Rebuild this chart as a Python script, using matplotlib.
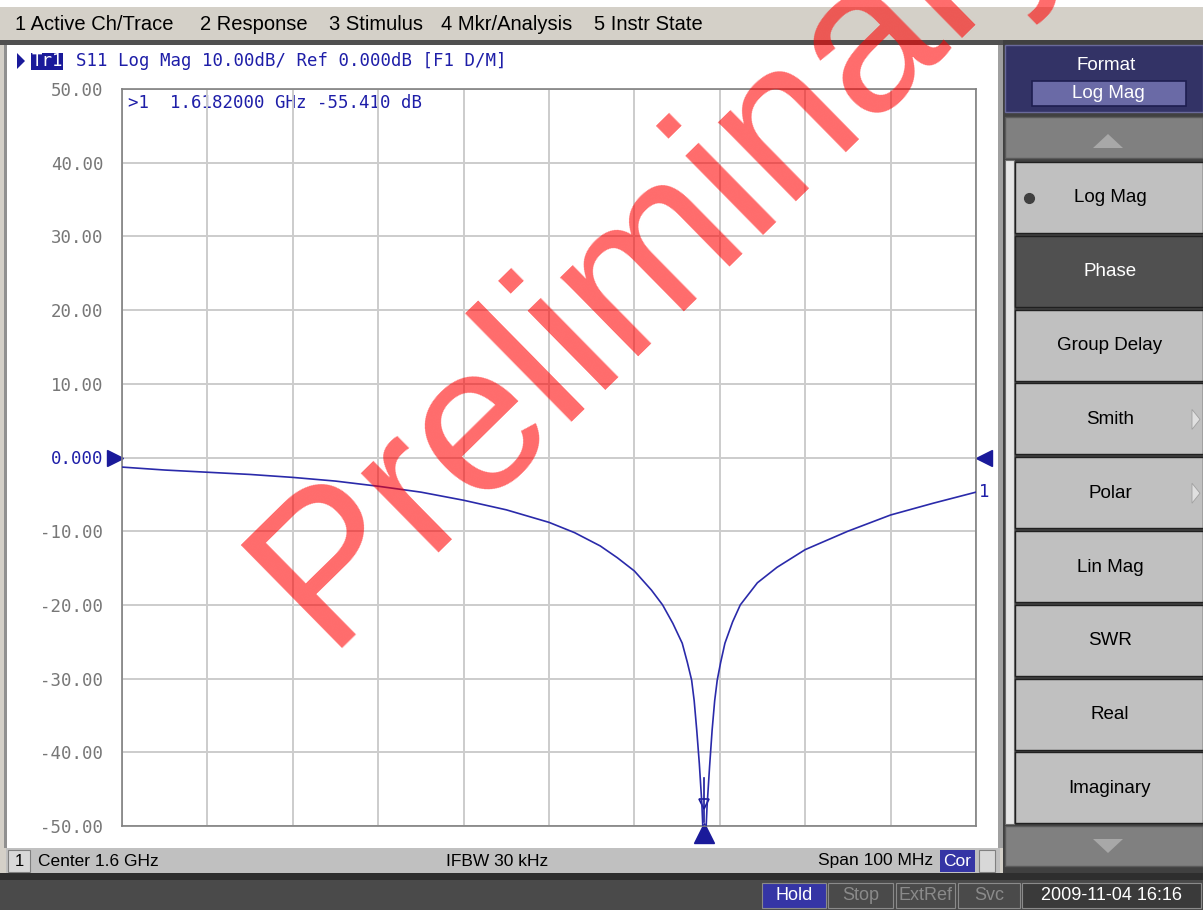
import matplotlib
matplotlib.use("Agg")
import matplotlib.pyplot as plt
import matplotlib.transforms as mtransforms
from matplotlib.patches import Rectangle, Polygon

W, H = 1203, 910

# S11 trace
freq_mhz = [1550, 1555, 1560, 1565, 1570, 1575, 1580, 1585, 1590, 1595, 1600,
            1603, 1606, 1608, 1610, 1612, 1613.3, 1614.5, 1615.6, 1616.2,
            1616.7, 1617.0, 1617.3, 1617.6, 1617.9, 1618.2, 1618.5, 1618.8,
            1619.1, 1619.4, 1619.7, 1620.1, 1620.6, 1621.5, 1622.4, 1624.4,
            1626.7, 1630, 1635, 1640, 1645, 1650]
s11_db = [-1.3, -1.7, -2.0, -2.3, -2.7, -3.2, -3.9, -4.7, -5.8, -7.1, -8.8,
          -10.2, -12.0, -13.6, -15.4, -18.0, -20.0, -22.5, -25.2, -27.8,
          -30.2, -33.0, -37.0, -41.5, -47.0, -55.4, -47.5, -42.0,
          -37.0, -33.0, -30.2, -27.8, -25.2, -22.3, -20.0, -17.0,
          -14.9, -12.5, -10.0, -7.8, -6.2, -4.7]

marker_freq = 1618.2
marker_db = -55.410
ytick_vals = [50, 40, 30, 20, 10, 0, -10, -20, -30, -40, -50]
ytick_text = ["50.00", "40.00", "30.00", "20.00", "10.00", "0.000",
              "-10.00", "-20.00", "-30.00", "-40.00", "-50.00"]

menu_items = ["1 Active Ch/Trace", "2 Response", "3 Stimulus",
              "4 Mkr/Analysis", "5 Instr State"]
format_buttons = ["Log Mag", "Phase", "Group Delay", "Smith", "Polar",
                  "Lin Mag", "SWR", "Real", "Imaginary"]

BLUE = "#1e1ea8"
MONO = "DejaVu Sans Mono"
UI = "Liberation Sans"

fig = plt.figure(figsize=(W / 100, H / 100), dpi=100)
bg = fig.add_axes([0, 0, 1, 1], zorder=0)
bg.set_xlim(0, W)
bg.set_ylim(H, 0)
bg.axis("off")


def box(x0, y0, x1, y1, fc, ec="none", lw=0, z=1):
    bg.add_patch(Rectangle((x0, y0), x1 - x0, y1 - y0, fc=fc, ec=ec, lw=lw, zorder=z))


# window chrome
box(0, 0, W, H, "#d4d0c8", z=0)
box(0, 0, W, 7, "white")
box(0, 40, 1003, 45, "#505050")
box(6, 45, 1000, 848, "white")
box(4, 45, 7, 848, "#909090")
box(998, 45, 1003, 848, "#a0a0a0")

menu_x = [15, 200, 329, 441, 594]
for mx, item in zip(menu_x, menu_items):
    bg.text(mx, 24, item, fontsize=14.5, family=UI, va="center", ha="left", color="black")

# header line
bg.add_patch(Polygon([(17, 53), (25, 61), (17, 69)], closed=True, fc="#1a1a9a", zorder=3))
box(31, 53, 63, 70, "#1a1a9a", z=3)
bg.text(47, 61.5, "Tr1", family=MONO, fontsize=12.5, color="white", ha="center", va="center", zorder=4)
bg.text(76, 61.5, "S11 Log Mag 10.00dB/ Ref 0.000dB [F1 D/M]", family=MONO,
        fontsize=12.5, color=BLUE, ha="left", va="center", zorder=4)
bg.text(128, 103, ">1  1.6182000 GHz -55.410 dB", family=MONO, fontsize=12.5,
        color=BLUE, ha="left", va="center", zorder=4)

# channel status bar
box(6, 848, 1000, 873, "#c0c0c0")
box(8, 850, 30, 872, "#d8d8d8", ec="#808080", lw=0.8, z=2)
bg.text(19, 861, "1", family=UI, fontsize=12, ha="center", va="center")
bg.text(38, 861, "Center 1.6 GHz", family=UI, fontsize=12.5, ha="left", va="center")
bg.text(497, 861, "IFBW 30 kHz", family=UI, fontsize=12.5, ha="center", va="center")
bg.text(933, 861, "Span 100 MHz", family=UI, fontsize=12.5, ha="right", va="center")
box(940, 850, 975, 872, "#3535a5", z=2)
bg.text(957, 861, "Cor", family=UI, fontsize=12.5, ha="center", va="center", color="white", zorder=3)
box(979, 850, 995, 872, "#d8d8d8", ec="#808080", lw=0.8, z=2)

# instrument status bar
box(0, 873, W, 880, "#2e2e2e")
box(0, 880, W, H, "#4a4a4a")
status = [("Hold", 762, 826, "#3535a5", "white"),
          ("Stop", 828, 893, "#4a4a4a", "#8a8a8a"),
          ("ExtRef", 896, 955, "#4a4a4a", "#8a8a8a"),
          ("Svc", 958, 1020, "#4a4a4a", "#8a8a8a"),
          ("2009-11-04 16:16", 1022, 1201, "#3a3a3a", "white")]
for label, x0, x1, fc, tc in status:
    box(x0, 883, x1, 908, fc, ec="#8a8a8a", lw=0.8, z=2)
    bg.text((x0 + x1) / 2, 895.5, label, family=UI, fontsize=13, ha="center",
            va="center", color=tc, zorder=3)

# softkey panel
box(1003, 40, W, 873, "#404040")
box(1005, 45, W, 112, "#333366", ec="#6a6a9a", lw=1, z=2)
bg.text(1106, 66, "Format", family=UI, fontsize=13.5, color="white", ha="center", va="center", zorder=3)
box(1032, 81, 1186, 106, "#6a6aa6", ec="#1e1e50", lw=1.2, z=3)
bg.text(1108, 94, "Log Mag", family=UI, fontsize=13.5, color="white", ha="center", va="center", zorder=4)

box(1005, 117, W, 158, "#808080", ec="#5a5a5a", lw=1, z=2)
bg.add_patch(Polygon([(1093, 148), (1123, 148), (1108, 134)], closed=True, fc="#a8a8a8", zorder=3))
box(1005, 160, 1014, 824, "#e6e6e6", ec="#707070", lw=0.8, z=2)

for i, name in enumerate(format_buttons):
    top = 162 + i * 73.8
    selected = name == "Phase"
    fc = "#505050" if selected else "#c0c0c0"
    box(1015, top, W, top + 71, fc, ec="#202020", lw=1, z=2)
    bg.text(1110, top + 36, name, family=UI, fontsize=13.5, ha="center", va="center",
            color="white" if selected else "black", zorder=3)
    if name == "Log Mag":
        bg.plot(1029, top + 36, "o", ms=7, color="#404040", zorder=4)
    if name in ("Smith", "Polar"):
        bg.add_patch(Polygon([(1192, top + 26), (1200, top + 36), (1192, top + 46)],
                             closed=True, fc="#e0e0e0", ec="#a0a0a0", lw=0.6, zorder=4))

box(1005, 826, W, 866, "#808080", ec="#5a5a5a", lw=1, z=2)
bg.add_patch(Polygon([(1093, 839), (1123, 839), (1108, 853)], closed=True, fc="#a8a8a8", zorder=3))

# measurement grid
ax = fig.add_axes([122 / W, 1 - 826 / H, 854 / W, 737 / H], zorder=2)
ax.set_facecolor("none")
ax.set_xlim(1550, 1650)
ax.set_ylim(-50, 50)
ax.set_xticks(range(1550, 1651, 10))
ax.set_yticks(ytick_vals)
ax.set_yticklabels(ytick_text, family=MONO, fontsize=12.5)
for lab, v in zip(ax.get_yticklabels(), ytick_vals):
    lab.set_color(BLUE if v == 0 else "#777777")
ax.tick_params(axis="both", length=0, pad=13.5)
ax.tick_params(axis="x", labelbottom=False)
ax.grid(True, color="#cccccc", lw=1.4)
ax.set_axisbelow(True)
for sp in ax.spines.values():
    sp.set_color("#808080")
    sp.set_linewidth(1.2)

ax.plot(freq_mhz, s11_db, color="#2a2aaa", lw=1.2, zorder=3)

# reference level arrows and stimulus marker
left_off = mtransforms.offset_copy(ax.transData, fig=fig, x=-7, y=0, units="dots")
right_off = mtransforms.offset_copy(ax.transData, fig=fig, x=8, y=0, units="dots")
down_off = mtransforms.offset_copy(ax.transData, fig=fig, x=0, y=-7, units="dots")
ax.plot(1550, 0, ">", ms=11, color="#1a1a9a", transform=left_off, clip_on=False)
ax.plot(1650, 0, "<", ms=11, color="#1a1a9a", transform=right_off, clip_on=False)
ax.plot(marker_freq, -50, "^", ms=15, color="#1a1a9a", transform=down_off, clip_on=False)
ax.plot(marker_freq, -47, "v", ms=7, mfc="none", mec="#1a1a9a", mew=1.2)
ax.plot([marker_freq, marker_freq], [-49.5, -43.5], color="#1a1a9a", lw=1.2)
ax.text(1650, s11_db[-1], "1", transform=mtransforms.offset_copy(ax.transData, fig=fig, x=3, y=0, units="dots"),
        family=MONO, fontsize=12.5, color=BLUE, ha="left", va="center", clip_on=False)

# watermark
fig.text(325 / W, 1 - 648 / H, "Preliminary", family=UI, fontsize=151, color="#ff0000",
         alpha=0.58, rotation=44.5, rotation_mode="anchor", ha="left", va="baseline", zorder=10)

fig.savefig("out.png", dpi=100)
